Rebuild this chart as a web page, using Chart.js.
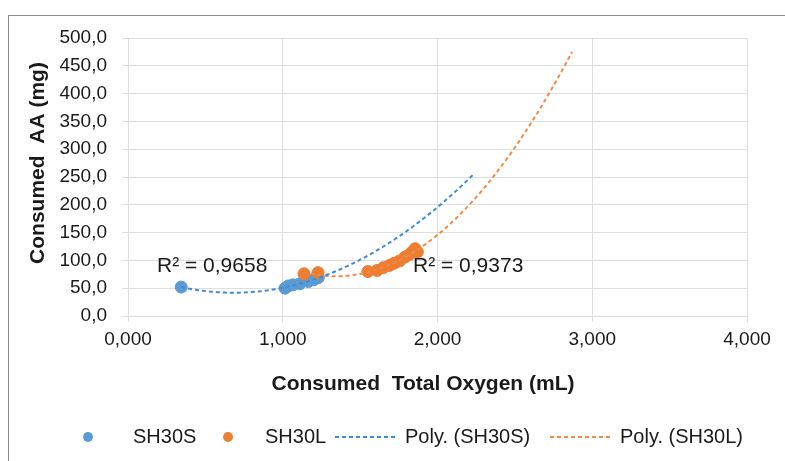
<!DOCTYPE html>
<html>
<head>
<meta charset="utf-8">
<script src="https://cdn.jsdelivr.net/npm/chart.js@4.4.1/dist/chart.umd.min.js"></script>
<style>
    html, body { margin: 0; padding: 0; background: #fff; }
    #wrap { position: relative; width: 785px; height: 461px; overflow: hidden; }
    #frame { position: absolute; left: 8px; top: 15px; width: 800px; height: 460px;
             border-left: 1px solid #8c8c8c; border-top: 1px solid #8c8c8c; }
    canvas { position: absolute; left: 0; top: 0; }
</style>
</head>
<body>
<div id="wrap">
    <div id="frame"></div>
    <canvas id="chart" width="785" height="461"></canvas>
</div>
<script>
// 数据：耗氧量 (mL) vs 消耗 AA (mg)
const sh30sX = [0.344, 1.015, 1.035, 1.065, 1.110, 1.165, 1.200, 1.230];
const sh30sY = [52, 50, 54, 56, 58, 62, 65, 69];
const sh30lX = [1.137, 1.228, 1.550, 1.610, 1.650, 1.690, 1.720, 1.755, 1.790, 1.820, 1.840, 1.855, 1.870];
const sh30lY = [76, 78, 80, 82, 87, 91, 95, 99, 106, 111, 116, 121, 115];
const seriesNames = ['SH30S', 'SH30L'];
const r2Labels = ['R² = 0,9658', 'R² = 0,9373'];
const forecastForward = 1.0;

const BLUE = '#5b9bd5';
const ORANGE = '#ed7d31';
const BLUE_LINE = '#3f8ad3';
const ORANGE_LINE = '#f08a45';
const FONT = '"Liberation Sans", Arial, sans-serif';

// 二次多项式最小二乘拟合
function polyFit2(xs, ys) {
    const n = xs.length;
    let s = [0, 0, 0, 0, 0], t = [0, 0, 0];
    for (let i = 0; i < n; i++) {
        let p = 1;
        for (let k = 0; k < 5; k++) { s[k] += p; if (k < 3) t[k] += p * ys[i]; p *= xs[i]; }
    }
    // 正规方程 3x3，克莱姆法则
    const m = [[s[0], s[1], s[2]], [s[1], s[2], s[3]], [s[2], s[3], s[4]]];
    const det = a => a[0][0] * (a[1][1] * a[2][2] - a[1][2] * a[2][1])
        - a[0][1] * (a[1][0] * a[2][2] - a[1][2] * a[2][0])
        + a[0][2] * (a[1][0] * a[2][1] - a[1][1] * a[2][0]);
    const d = det(m);
    const coef = [0, 1, 2].map(j => {
        const mj = m.map((row, r) => row.map((v, c) => (c === j ? t[r] : v)));
        return det(mj) / d;
    });
    return x => coef[0] + coef[1] * x + coef[2] * x * x;
}

function trendPoints(xs, ys) {
    const f = polyFit2(xs, ys);
    const x0 = Math.min(...xs), x1 = Math.max(...xs) + forecastForward;
    const pts = [];
    for (let i = 0; i <= 120; i++) {
        const x = x0 + (x1 - x0) * i / 120;
        pts.push({ x, y: f(x) });
    }
    return pts;
}

const toPoints = (xs, ys) => xs.map((x, i) => ({ x, y: ys[i] }));

// 图例与 R² 标注、坐标轴标题
const overlay = {
    id: 'overlay',
    afterDraw(chart) {
        const ctx = chart.ctx;
        ctx.save();
        ctx.fillStyle = '#1a1a1a';
        ctx.textBaseline = 'middle';

        // 坐标轴标题
        ctx.font = 'bold 21px ' + FONT;
        ctx.textAlign = 'center';
        ctx.fillText('Consumed  Total Oxygen (mL)', 423, 384);
        ctx.save();
        ctx.translate(38, 163);
        ctx.rotate(-Math.PI / 2);
        ctx.fillText('Consumed  AA (mg)', 0, 0);
        ctx.restore();

        // R²
        ctx.font = '21px ' + FONT;
        ctx.textAlign = 'left';
        ctx.fillText(r2Labels[0], 157, 266);
        ctx.fillText(r2Labels[1], 413, 266);

        // 图例
        const ly = 437;
        ctx.font = '20px ' + FONT;
        ctx.fillStyle = BLUE;
        ctx.beginPath(); ctx.arc(88, ly, 5, 0, Math.PI * 2); ctx.fill();
        ctx.fillStyle = ORANGE;
        ctx.beginPath(); ctx.arc(228, ly, 5, 0, Math.PI * 2); ctx.fill();
        ctx.lineWidth = 2;
        ctx.setLineDash([4, 3]);
        ctx.strokeStyle = BLUE_LINE;
        ctx.beginPath(); ctx.moveTo(335, ly); ctx.lineTo(396, ly); ctx.stroke();
        ctx.strokeStyle = ORANGE_LINE;
        ctx.beginPath(); ctx.moveTo(550, ly); ctx.lineTo(611, ly); ctx.stroke();
        ctx.setLineDash([]);
        ctx.fillStyle = '#1a1a1a';
        ctx.fillText(seriesNames[0], 133, ly);
        ctx.fillText(seriesNames[1], 265, ly);
        ctx.fillText('Poly. (' + seriesNames[0] + ')', 405, ly);
        ctx.fillText('Poly. (' + seriesNames[1] + ')', 620, ly);
        ctx.restore();
    }
};

new Chart(document.getElementById('chart'), {
    type: 'scatter',
    data: {
        datasets: [
            {
                label: 'Poly. (' + seriesNames[0] + ')', type: 'line', order: 0,
                data: trendPoints(sh30sX, sh30sY),
                borderColor: BLUE_LINE, borderWidth: 2, borderDash: [4, 3],
                pointRadius: 0, fill: false, tension: 0
            },
            {
                label: 'Poly. (' + seriesNames[1] + ')', type: 'line', order: 0,
                data: trendPoints(sh30lX, sh30lY),
                borderColor: ORANGE_LINE, borderWidth: 2, borderDash: [4, 3],
                pointRadius: 0, fill: false, tension: 0
            },
            {
                label: seriesNames[0], order: 2,
                data: toPoints(sh30sX, sh30sY),
                backgroundColor: BLUE, borderColor: BLUE, pointRadius: 6
            },
            {
                label: seriesNames[1], order: 1,
                data: toPoints(sh30lX, sh30lY),
                backgroundColor: ORANGE, borderColor: ORANGE, pointRadius: 6
            }
        ]
    },
    options: {
        responsive: false,
        devicePixelRatio: 1,
        animation: false,
        layout: { padding: { left: 0, top: 38, right: 38, bottom: 0 } },
        plugins: { legend: { display: false }, tooltip: { enabled: false } },
        scales: {
            x: {
                type: 'linear', min: 0, max: 4,
                afterFit: s => { s.height = 145; },
                ticks: {
                    stepSize: 1, padding: 6, color: '#1a1a1a',
                    font: { family: FONT, size: 19 },
                    callback: v => v.toFixed(3).replace('.', ',')
                },
                grid: { color: '#dedede', tickLength: 6, lineWidth: 1 },
                border: { color: '#dedede' }
            },
            y: {
                min: 0, max: 500,
                afterFit: s => { s.width = 128; },
                ticks: {
                    stepSize: 50, padding: 15, color: '#1a1a1a',
                    font: { family: FONT, size: 19 },
                    callback: v => v.toFixed(1).replace('.', ',')
                },
                grid: { color: '#dedede', tickLength: 6, lineWidth: 1 },
                border: { color: '#dedede' }
            }
        }
    },
    plugins: [overlay]
});
</script>
</body>
</html>
